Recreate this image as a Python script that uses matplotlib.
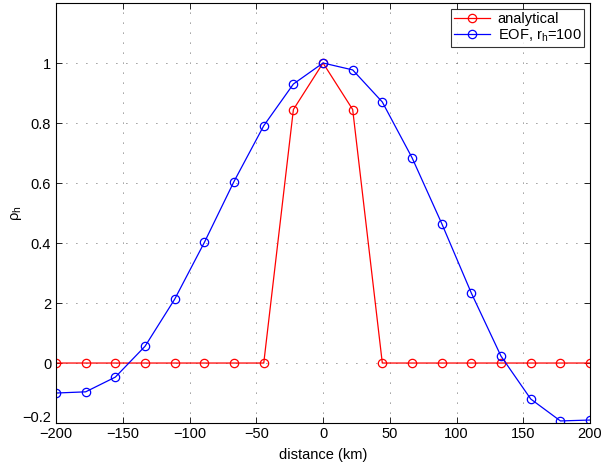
import numpy as np
import matplotlib
matplotlib.use("Agg")
import matplotlib.pyplot as plt
import matplotlib.transforms as mtransforms

plt.rcParams['font.family'] = ['Liberation Sans', 'DejaVu Sans']
plt.rcParams['mathtext.fontset'] = 'custom'
plt.rcParams['mathtext.rm'] = 'Liberation Sans'
plt.rcParams['mathtext.it'] = 'Liberation Sans'

# separation distance (km)
distance = [-200.0, -177.8, -155.6, -133.3, -111.1, -88.9, -66.7, -44.4, -22.2, 0.0,
            22.2, 44.4, 66.7, 88.9, 111.1, 133.3, 155.6, 177.8, 200.0]
analytical = [0, 0, 0, 0, 0, 0, 0, 0, 0.845, 1.0, 0.845, 0, 0, 0, 0, 0, 0, 0, 0]
eof = [-0.100, -0.096, -0.047, 0.056, 0.213, 0.402, 0.605, 0.791, 0.930, 1.000,
       0.977, 0.870, 0.684, 0.465, 0.233, 0.023, -0.120, -0.193, -0.190]

xticks = [-200, -150, -100, -50, 0, 50, 100, 150, 200]
yticks = [-0.2, 0, 0.2, 0.4, 0.6, 0.8, 1.0]
ytick_labels = ['\u22120.2', '0', '2', '0.4', '0.6', '0.8', '1']

fig = plt.figure(figsize=(6.11, 4.69), dpi=100)
ax = fig.add_axes([0.0917, 0.098, 0.874, 0.8956])

ax.plot(distance, analytical, '-o', color='red', lw=0.9, ms=6,
        mfc='none', mew=0.9, label='analytical')
ax.plot(distance, eof, '-o', color='blue', lw=0.9, ms=6,
        mfc='none', mew=0.9, label='EOF, r$_\\mathregular{h}$=100')

ax.set_xlim(-200, 200)
ax.set_ylim(-0.2, 1.2)
ax.set_xticks(xticks)
ax.set_xticklabels([str(t).replace('-', '\u2212') for t in xticks])
ax.set_yticks(yticks)
ax.set_yticklabels(ytick_labels)
ax.tick_params(direction='in', top=True, right=True, labelsize=10.5, length=4, width=0.6)
ax.tick_params(axis='x', pad=3)
ax.grid(True, color='#333333', linestyle=(0, (1, 11)), linewidth=0.6)
for s in ax.spines.values():
    s.set_linewidth(0.8)

# lift the bottom y tick label a little so it clears the x tick labels
lowest = ax.get_yticklabels()[0]
lowest.set_transform(lowest.get_transform() +
                     mtransforms.ScaledTranslation(0, 5 / 72, fig.dpi_scale_trans))

ax.set_xlabel('distance (km)', fontsize=10.5, labelpad=5)
ax.set_ylabel('\u03c1$_\\mathregular{h}$', fontsize=10.5, labelpad=-1)

leg = ax.legend(loc='upper right', fontsize=10.5, frameon=True, fancybox=False,
                edgecolor='black', borderpad=0.2, handlelength=2.5,
                handletextpad=0.5, labelspacing=0.1, borderaxespad=0.4)
leg.get_frame().set_linewidth(0.8)

fig.savefig('out.png', dpi=100)
